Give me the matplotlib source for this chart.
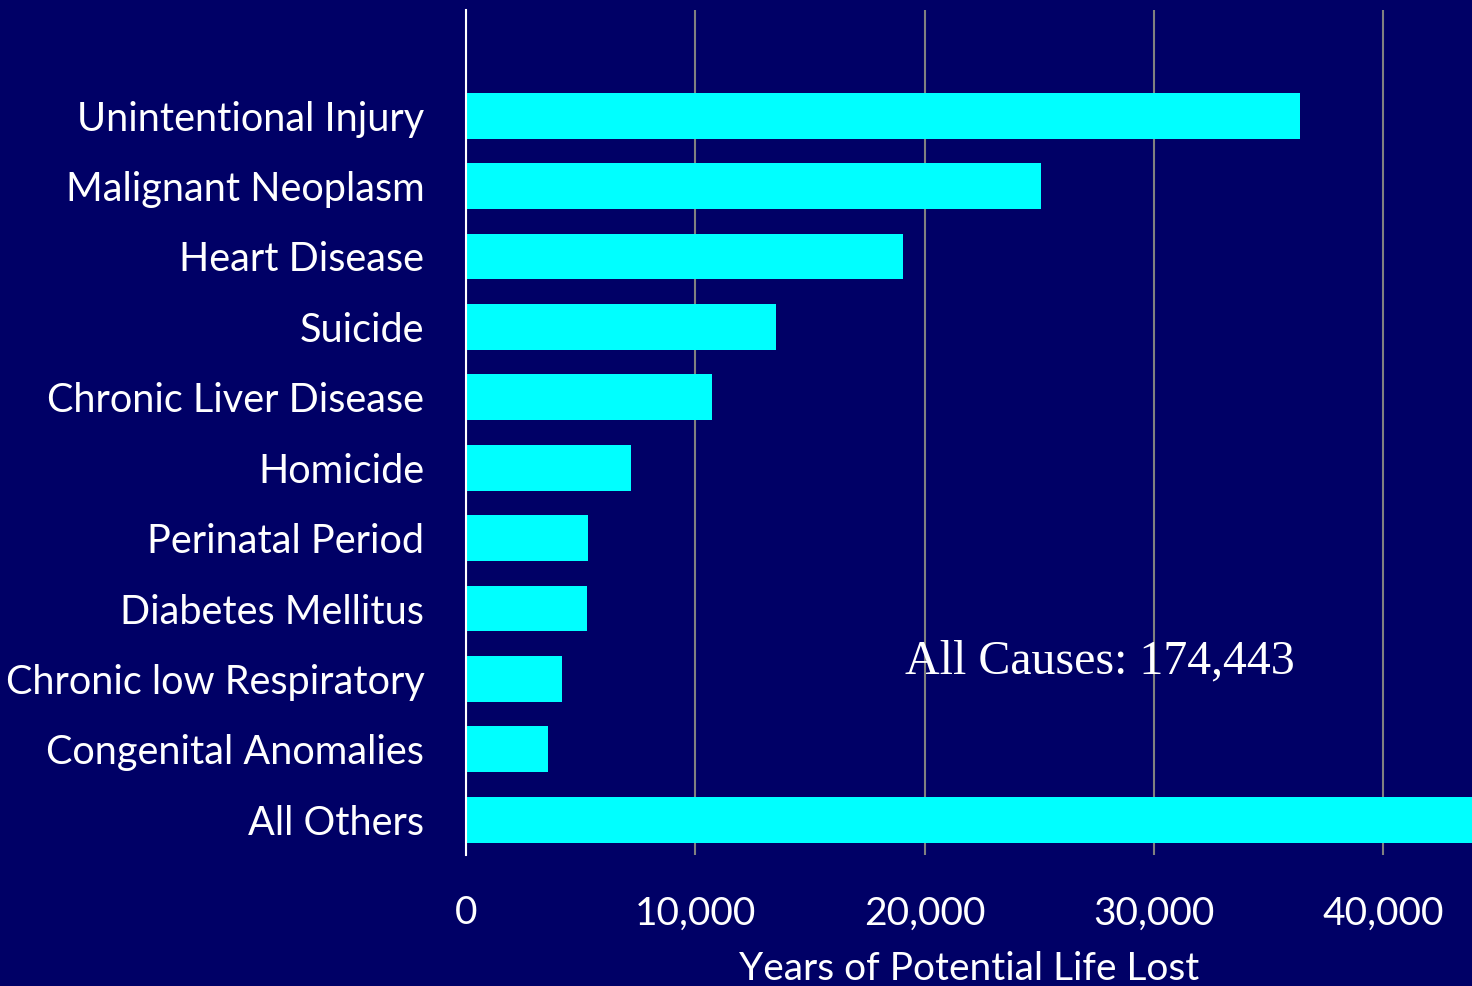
import matplotlib
matplotlib.use('Agg')
import matplotlib.pyplot as plt
from matplotlib.ticker import FuncFormatter

# causes of death, top to bottom
causes = ['Unintentional Injury', 'Malignant Neoplasm', 'Heart Disease', 'Suicide',
          'Chronic Liver Disease', 'Homicide', 'Perinatal Period', 'Diabetes Mellitus',
          'Chronic low Respiratory', 'Congenital Anomalies', 'All Others']
ypll = [36380, 25080, 19060, 13520, 10730, 7200, 5320, 5280, 4190, 3580, 44100]
xticks = [0, 10000, 20000, 30000, 40000]
total_text = 'All Causes: 174,443'

bg = '#000066'
bar_col = '#00FFFF'

plt.rcParams['font.family'] = ['Lato', 'DejaVu Sans']

fig = plt.figure(figsize=(14.72, 9.86), dpi=100, facecolor=bg)
ax = fig.add_axes([466 / 1472, 1 - 855 / 986, 1 - 466 / 1472, 845 / 986])
ax.set_facecolor(bg)

pos = list(range(len(causes)))
ax.barh(pos, ypll, height=0.65, color=bar_col, zorder=3)

ax.set_ylim(10.5, -1.5)
ax.set_xlim(0, 43880)
ax.set_yticks(pos)
ax.set_yticklabels(causes, fontsize=28.5)
ax.set_xticks(xticks)
ax.xaxis.set_major_formatter(FuncFormatter(lambda v, p: f'{int(v):,}'))
ax.tick_params(axis='both', length=0, colors='white')
ax.tick_params(axis='x', labelsize=28, pad=29)
ax.tick_params(axis='y', pad=30)

ax.grid(axis='x', color='#808080', linewidth=1.5, zorder=0)
for s in ['top', 'right', 'bottom']:
    ax.spines[s].set_visible(False)
ax.spines['left'].set_color('white')
ax.spines['left'].set_linewidth(1.5)
ax.spines['left'].set_zorder(4)

ax.set_xlabel('Years of Potential Life Lost', color='white', fontsize=28, labelpad=14)

ax.text(27650, 7.75, total_text, ha='center', va='center', color='white',
        fontsize=34.5, family=['Liberation Serif'], zorder=5)

fig.savefig('out.png', dpi=100, facecolor=bg)
